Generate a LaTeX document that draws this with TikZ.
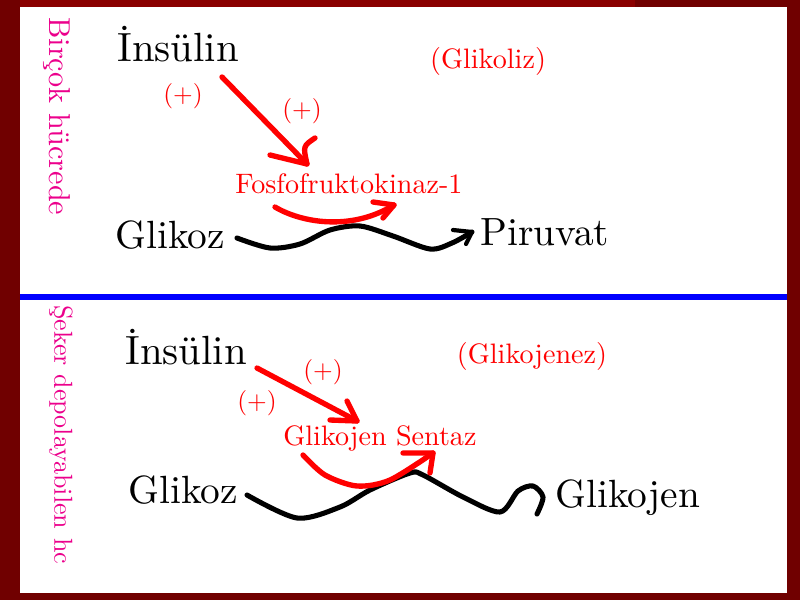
\documentclass[tikz,border=0pt]{standalone}
\usepackage{fontspec}
\setmainfont{lmroman10-regular}[Extension=.otf]
\usepackage{tikz}
\definecolor{maroon}{RGB}{112,0,0}
\definecolor{darkred}{RGB}{138,0,0}

\begin{document}
\begin{tikzpicture}[x=0.025cm,y=-0.025cm]
\tikzstyle{every node}=[inner sep=0pt]
\tikzstyle{black text}=[font=\fontsize{28}{34}\selectfont, anchor=base west]
\tikzstyle{red text}=[text=red, font=\fontsize{20}{24}\selectfont]
\tikzstyle{plus text}=[text=red, font=\fontsize{18}{22}\selectfont]
\tikzstyle{side text}=[text=magenta, rotate=-90, anchor=west]
\tikzstyle{red pen}=[red, line width=3.8pt, line cap=round, line join=round]
\tikzstyle{black pen}=[black, line width=3.6pt, line cap=round, line join=round]
%\draw [red!40](0,0) grid (800,600);

\fill[maroon] (0,0) rectangle (800,600);
\fill[darkred] (20,0) rectangle (635,7);
\fill[white] (20,7) rectangle (787,593);
\draw[blue, line width=3.6pt] (20,297) -- (787,297);

\node[side text, font=\fontsize{21.5}{26}\selectfont] (cell1) at (57,17) {Birçok hücrede};
\node[side text, font=\fontsize{18.5}{22}\selectfont] (cell2) at (61,305) {Şeker depolayabilen hc};

% upper panel
\node[black text, font=\fontsize{29}{34}\selectfont] (ins1) at (117,61) {İnsülin};
\node[red text] (gly) at (488,61) {(Glikoliz)};
\node[plus text] (p1) at (183,96) {(+)};
\node[plus text] (p2) at (302,111) {(+)};
\node[red text, anchor=base west] (pfk) at (235,193) {Fosfofruktokinaz-1};
\node[black text] (glc1) at (115,248) {Glikoz};
\node[black text] (pyr) at (480,245) {Piruvat};

\coordinate (a1) at (222,77);
\coordinate (a1h) at (307,164);
\coordinate (b1) at (275,207);
\coordinate (b1h) at (394,205);
\coordinate (c1) at (237,238);
\coordinate (c1h) at (472,232);
\draw[black pen] plot[smooth] coordinates {(c1) (270,248) (300,244) (330,230) (360,226) (393,236) (430,249) (452,243) (c1h)};
\draw[black pen, line width=3pt] (453,230) -- (c1h) -- (466,244);
\draw[red pen] (a1) -- (a1h);
\draw[red pen] (270,155) -- (a1h) .. controls (303,146) .. (315,138);
\draw[red pen] (b1) .. controls (300,222) and (350,232) .. (b1h);
\draw[red pen] (373,202) -- (b1h) -- (383,218);

% lower panel
\node[black text, font=\fontsize{29}{34}\selectfont] (ins2) at (125,364) {İnsülin};
\node[red text] (gen) at (532,356) {(Glikojenez)};
\node[plus text] (p3) at (323,372) {(+)};
\node[plus text] (p4) at (257,403) {(+)};
\node[red text, anchor=base west] (gs) at (283,445) {Glikojen Sentaz};
\node[black text] (glc2) at (128,503) {Glikoz};
\node[black text] (glg) at (555,507) {Glikojen};

\coordinate (a2) at (257,368);
\coordinate (a2h) at (357,421);
\coordinate (b2) at (303,455);
\coordinate (b2h) at (433,453);
\coordinate (c2) at (247,495);
\coordinate (c2h) at (537,514);
\draw[black pen] plot[smooth] coordinates {(c2) (297,518) (340,507) (370,490) (410,473) (423,475) (463,497) (500,512) (518,491) (533,486) (543,497) (c2h)};
\draw[red pen] (a2) -- (a2h);
\draw[red pen] (330,420) -- (a2h) -- (347,401);
\draw[red pen] plot[smooth] coordinates {(b2) (325,475) (357,486) (390,480) (b2h)};
\draw[red pen] (403,453) -- (b2h) -- (430,473);
\end{tikzpicture}
\end{document}
